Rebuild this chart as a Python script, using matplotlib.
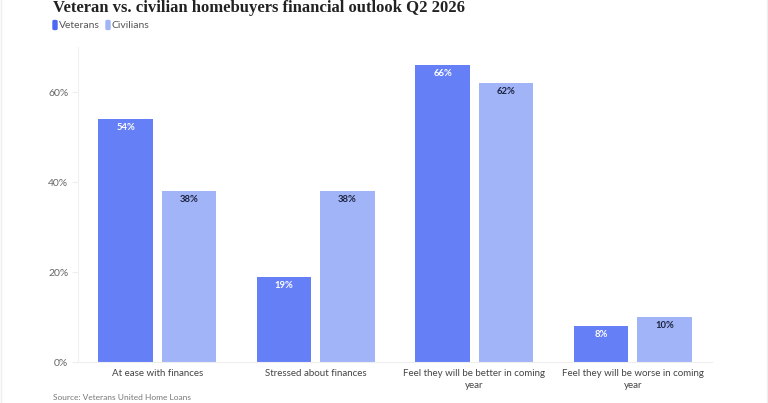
import numpy as np
import matplotlib.pyplot as plt
from matplotlib.patches import FancyBboxPatch

categories = ["At ease with finances", "Stressed about finances",
              "Feel they will be better in coming\nyear", "Feel they will be worse in coming\nyear"]
veterans = [54, 19, 66, 8]
civilians = [38, 38, 62, 10]
series_names = ["Veterans", "Civilians"]
yticks = [0, 20, 40, 60]

vet_color = "#657ff6"
civ_color = "#a1b4f8"

plt.rcParams['font.family'] = ['Lato', 'DejaVu Sans']

fig = plt.figure(figsize=(7.68, 4.03), dpi=100)
ax = fig.add_axes([78/768, 41/403, 634/768, 315/403])

x = np.arange(len(categories))
w = 0.345
off = 0.2
b1 = ax.bar(x - off, veterans, w, color=vet_color, zorder=2)
b2 = ax.bar(x + off, civilians, w, color=civ_color, zorder=2)

for rect, v in zip(b1, veterans):
    ax.annotate(f"{v}%", (rect.get_x() + rect.get_width()/2, v), xytext=(0, -3),
                textcoords="offset points", ha="center", va="top",
                fontsize=6.8, fontweight="bold", color="white")
for rect, v in zip(b2, civilians):
    ax.annotate(f"{v}%", (rect.get_x() + rect.get_width()/2, v), xytext=(0, -3),
                textcoords="offset points", ha="center", va="top",
                fontsize=6.8, fontweight="bold", color="#1c2340")

ax.set_xlim(-0.5, 3.5)
ax.set_ylim(0, 70)
ax.set_yticks(yticks)
ax.set_yticklabels([f"{t}%" for t in yticks], fontsize=7.5, color="#666666")
ax.set_xticks(x)
ax.set_xticklabels(categories, fontsize=7, color="#444444", linespacing=1.4)
ax.tick_params(axis="x", length=0, pad=5)
ax.tick_params(axis="y", length=4, color="#eeeeee", pad=3)

for s in ["top", "right"]:
    ax.spines[s].set_visible(False)
ax.spines["left"].set_color("#f0f0f0")
ax.spines["bottom"].set_color("#eeeeee")

# title at the very top
fig.text(53/768, 1 - 12/403, "Veteran vs. civilian homebuyers financial outlook Q2 2026",
         fontsize=12, fontweight="bold", color="#222222", va="baseline",
         family=["Liberation Serif", "DejaVu Serif"])

# legend
ly = 1 - 25/403
pos = [53/768, 106/768]
for name, c, px in zip(series_names, ["#4c68f2", civ_color], pos):
    fig.patches.append(FancyBboxPatch((px, ly - 4.5/403), 4/768, 9/403,
                                      boxstyle="round,pad=0,rounding_size=0.002",
                                      transform=fig.transFigure, color=c))
    fig.text(px + 6/768, ly, name, fontsize=7.5, color="#555555", va="center")

fig.text(53/768, 1 - 401/403, "Source: Veterans United Home Loans",
         fontsize=6, color="#777777", va="bottom")

# faint frame at the image edges
fig.patches.append(plt.Rectangle((0.5/768, -0.01), 766.5/768, 1.02, fill=False,
                                 edgecolor="#eeeeee", lw=1, transform=fig.transFigure))

fig.savefig("out.png", dpi=100)
